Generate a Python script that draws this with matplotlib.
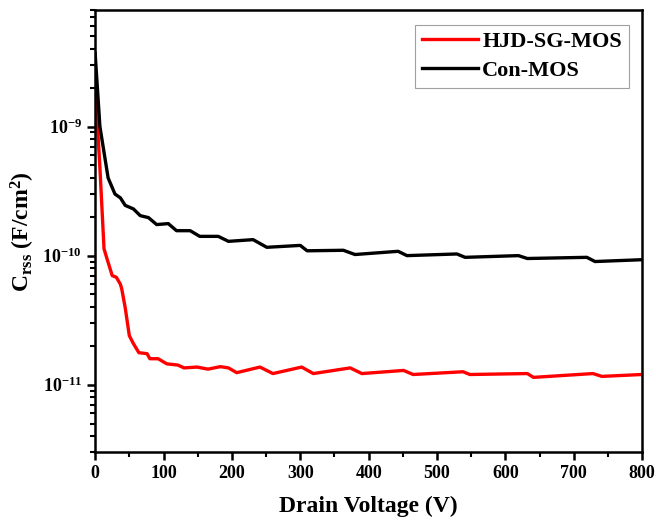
import matplotlib
matplotlib.use("Agg")
import matplotlib.pyplot as plt
from matplotlib.ticker import LogLocator, MultipleLocator, NullFormatter

# Con-MOS (black)
con_v = [0, 7, 19, 29, 37, 44, 56, 66, 78, 90, 107, 119, 139, 153, 180, 195,
         231, 251, 300, 310, 363, 380, 443, 456, 529, 541, 619, 632, 719, 731, 800]
con_c = [3.7e-9, 1.0e-9, 4.0e-10, 3.0e-10, 2.8e-10, 2.45e-10, 2.3e-10, 2.04e-10,
         1.97e-10, 1.74e-10, 1.77e-10, 1.56e-10, 1.56e-10, 1.41e-10, 1.41e-10,
         1.29e-10, 1.33e-10, 1.16e-10, 1.2e-10, 1.09e-10, 1.1e-10, 1.02e-10,
         1.08e-10, 1.0e-10, 1.03e-10, 0.97e-10, 1.0e-10, 0.95e-10, 0.97e-10,
         0.9e-10, 0.93e-10]

# HJD-SG-MOS (red)
hjd_v = [0, 7, 13, 17, 25, 31, 37, 39, 44, 50, 56, 64, 76, 80, 92, 105, 121,
         130, 149, 165, 183, 195, 207, 241, 260, 302, 319, 373, 390, 451, 465,
         538, 548, 632, 641, 728, 741, 800]
hjd_c = [2.1e-9, 4.8e-10, 1.13e-10, 9.6e-11, 7.0e-11, 6.8e-11, 6.0e-11, 5.5e-11,
         3.95e-11, 2.4e-11, 2.08e-11, 1.77e-11, 1.74e-11, 1.59e-11, 1.59e-11,
         1.45e-11, 1.42e-11, 1.35e-11, 1.37e-11, 1.32e-11, 1.38e-11, 1.35e-11,
         1.24e-11, 1.37e-11, 1.22e-11, 1.37e-11, 1.22e-11, 1.35e-11, 1.22e-11,
         1.29e-11, 1.2e-11, 1.26e-11, 1.2e-11, 1.22e-11, 1.14e-11, 1.22e-11,
         1.16e-11, 1.2e-11]

plt.rcParams["font.family"] = ["Liberation Serif", "DejaVu Serif"]
plt.rcParams["font.weight"] = "bold"
plt.rcParams["axes.labelweight"] = "bold"
plt.rcParams["axes.unicode_minus"] = False
plt.rcParams["mathtext.fontset"] = "custom"
plt.rcParams["mathtext.rm"] = "Liberation Serif:bold"
plt.rcParams["mathtext.bf"] = "Liberation Serif:bold"
plt.rcParams["mathtext.it"] = "Liberation Serif:bold"

fig = plt.figure(figsize=(6.56, 5.24), dpi=100)
ax = fig.add_axes([0.145, 0.137, 0.834, 0.844])

ax.plot(hjd_v, hjd_c, color="#ff0000", lw=2.4, label="HJD-SG-MOS")
ax.plot(con_v, con_c, color="black", lw=2.4, label="Con-MOS")

ax.set_yscale("log")
ax.set_xlim(0, 800)
ax.set_ylim(3e-12, 8e-9)
ax.xaxis.set_major_locator(MultipleLocator(100))
ax.xaxis.set_minor_locator(MultipleLocator(50))
ax.yaxis.set_major_locator(LogLocator(base=10, numticks=10))
ax.yaxis.set_minor_locator(LogLocator(base=10, subs=range(2, 10), numticks=20))
ax.yaxis.set_minor_formatter(NullFormatter())

for s in ax.spines.values():
    s.set_linewidth(1.8)
ax.tick_params(which="major", direction="out", length=6, width=1.8, labelsize=13)
ax.tick_params(which="minor", direction="out", length=3.5, width=1.5)

ax.set_xlabel("Drain Voltage (V)", fontsize=17, labelpad=10)
ax.set_ylabel(r"C$_{\rm rss}$ (F/cm$^2$)", fontsize=17, labelpad=4)

leg = ax.legend(loc="upper right", bbox_to_anchor=(0.975, 0.967), fontsize=16,
                frameon=True, fancybox=False, handlelength=2.5, handletextpad=0.2,
                borderpad=0.3, labelspacing=0.4, borderaxespad=0)
leg.get_frame().set_edgecolor("#888888")
leg.get_frame().set_linewidth(0.8)

fig.savefig("out.png", dpi=100)
